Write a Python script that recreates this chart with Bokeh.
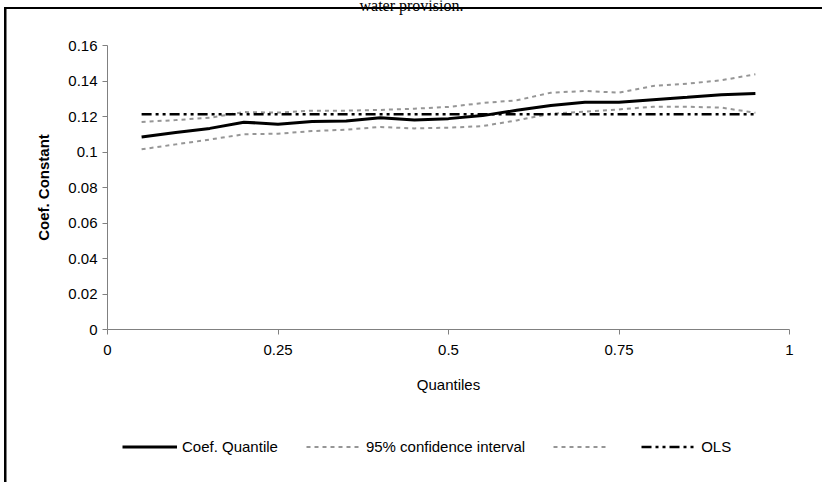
from bokeh.plotting import figure
from bokeh.models import Legend, LegendItem, Label, FixedTicker, Range1d
from bokeh.embed import file_html
from bokeh.resources import INLINE

# ---- data ----
quantiles = [0.05, 0.10, 0.15, 0.20, 0.25, 0.30, 0.35, 0.40, 0.45, 0.50,
             0.55, 0.60, 0.65, 0.70, 0.75, 0.80, 0.85, 0.90, 0.95]
coef = [0.1085, 0.1110, 0.1133, 0.1168, 0.1157, 0.1172, 0.1175, 0.1193, 0.1180, 0.1188,
        0.1205, 0.1235, 0.1262, 0.1280, 0.1280, 0.1295, 0.1308, 0.1323, 0.1330]
ci_low = [0.1015, 0.1043, 0.1070, 0.1100, 0.1103, 0.1118, 0.1126, 0.1141, 0.1133, 0.1137,
          0.1146, 0.1178, 0.1216, 0.1227, 0.1240, 0.1255, 0.1255, 0.1250, 0.1221]
ci_high = [0.1169, 0.1180, 0.1193, 0.1225, 0.1222, 0.1233, 0.1233, 0.1237, 0.1244, 0.1254,
           0.1276, 0.1291, 0.1334, 0.1344, 0.1334, 0.1372, 0.1385, 0.1404, 0.1438]
ols_x = [0.05, 0.95]
ols_y = [0.1212, 0.1212]

x_ticks = [0, 0.25, 0.5, 0.75, 1]
x_tick_labels = ["0", "0.25", "0.5", "0.75", "1"]
y_ticks = [0, 0.02, 0.04, 0.06, 0.08, 0.10, 0.12, 0.14, 0.16]
y_tick_labels = ["0", "0.02", "0.04", "0.06", "0.08", "0.1", "0.12", "0.14", "0.16"]

title_text = "water provision."
x_label = "Quantiles"
y_label = "Coef. Constant"
legend_labels = ["Coef. Quantile", "95% confidence interval", "", "OLS"]

FONT = "Liberation Sans"

# layout: the plot frame fills the whole canvas; the axes themselves span
# 0..1 (x) and 0..0.16 (y) at fixed pixel positions
W, H = 822, 482
AX_LEFT, AX_RIGHT = 107, 789     # canvas x of 0 and 1
AX_TOP, AX_BOTTOM = 45, 329      # canvas y of 0.16 and 0
px_x = (AX_RIGHT - AX_LEFT) / 1.0
px_y = (AX_BOTTOM - AX_TOP) / 0.16
x_start, x_end = -AX_LEFT / px_x, 1 + (W - AX_RIGHT) / px_x
y_start, y_end = -(H - AX_BOTTOM) / px_y, 0.16 + AX_TOP / px_y

p = figure(width=W, height=H, output_backend="svg", toolbar_location=None,
           title=None, x_range=Range1d(x_start, x_end), y_range=Range1d(y_start, y_end),
           min_border_left=0, min_border_right=0, min_border_top=0, min_border_bottom=0)
p.outline_line_color = None
p.xgrid.visible = False
p.ygrid.visible = False
p.background_fill_color = None
p.border_fill_color = None
# outer frame of the original figure box (left and top edges)
p.styles = {
    "background": "linear-gradient(#000, #000) 4px 7px / 2.5px 100% no-repeat, "
                  "linear-gradient(#000, #000) 4px 7px / 100% 2px no-repeat, #ffffff",
}

r_coef = p.line(quantiles, coef, line_color="black", line_width=3)
r_low = p.line(quantiles, ci_low, line_color="#969696", line_width=2, line_dash="4 4")
r_high = p.line(quantiles, ci_high, line_color="#969696", line_width=2, line_dash="4 4")
r_ols = p.line(ols_x, ols_y, line_color="black", line_width=2.5, line_dash="10 4 3 4 3 4")

for ax, ticks, labels in ((p.xaxis[0], x_ticks, x_tick_labels), (p.yaxis[0], y_ticks, y_tick_labels)):
    ax.ticker = FixedTicker(ticks=ticks)
    ax.major_label_overrides = {t: l for t, l in zip(ticks, labels)}
    ax.minor_tick_line_color = None
    ax.major_tick_in = 0
    ax.major_tick_out = 5
    ax.axis_line_color = "#808080"
    ax.major_tick_line_color = "#808080"
    ax.major_label_text_font = FONT
    ax.major_label_text_font_size = "15px"
    ax.major_label_text_color = "black"
    ax.axis_label_text_font = FONT
    ax.axis_label_text_font_size = "15px"
    ax.axis_label_text_color = "black"

p.xaxis.fixed_location = 0
p.xaxis.bounds = (0, 1)
p.xaxis.axis_label = x_label
p.xaxis.axis_label_text_font_style = "normal"
p.xaxis.major_label_standoff = 10
p.xaxis.axis_label_standoff = 18
p.yaxis.fixed_location = 0
p.yaxis.bounds = (0, 0.16)
p.yaxis.axis_label = y_label
p.yaxis.axis_label_text_font_style = "bold"
p.yaxis.major_label_standoff = 5
p.yaxis.axis_label_standoff = 13

legend = Legend(items=[
    LegendItem(label=legend_labels[0], renderers=[r_coef]),
    LegendItem(label=legend_labels[1], renderers=[r_low]),
    LegendItem(label=legend_labels[2], renderers=[r_high]),
    LegendItem(label=legend_labels[3], renderers=[r_ols]),
], orientation="horizontal", location=(122, 27))
legend.background_fill_alpha = 0
legend.border_line_color = None
legend.padding = 0
legend.margin = 0
legend.spacing = 28
legend.glyph_width = 55
legend.glyph_height = 17
legend.label_height = 17
legend.label_width = 0
legend.label_standoff = 5
legend.label_text_font = FONT
legend.label_text_font_size = "15px"
legend.label_text_color = "black"
p.add_layout(legend, "center")

title = Label(x=W / 2, y=H - 4.5, x_units="screen", y_units="screen", text=title_text,
              text_font="Liberation Serif", text_font_size="16px", text_align="center",
              text_baseline="alphabetic", text_color="black")
p.add_layout(title)

open("out.html", "w").write(file_html(p, INLINE))
